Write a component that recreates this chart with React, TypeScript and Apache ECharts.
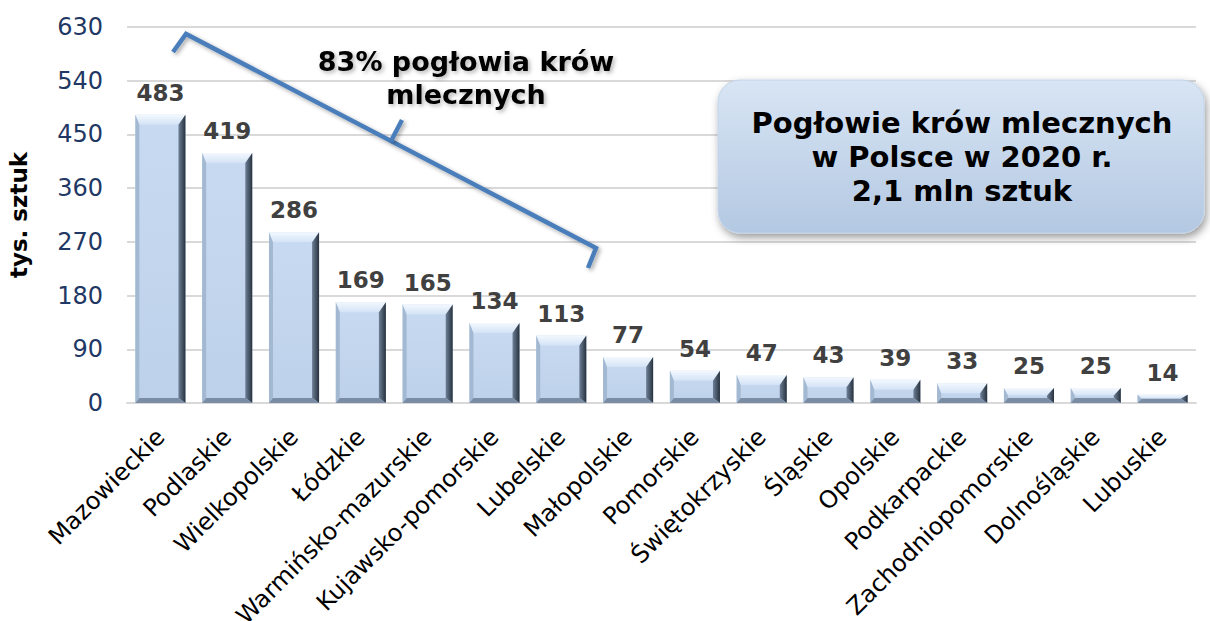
import React, { useEffect, useRef } from "react";
import * as echarts from "echarts";

const categories = [
  "Mazowieckie", "Podlaskie", "Wielkopolskie", "Łódzkie", "Warmińsko-mazurskie",
  "Kujawsko-pomorskie", "Lubelskie", "Małopolskie", "Pomorskie", "Świętokrzyskie",
  "Śląskie", "Opolskie", "Podkarpackie", "Zachodniopomorskie", "Dolnośląskie", "Lubuskie",
];
const values = [483, 419, 286, 169, 165, 134, 113, 77, 54, 47, 43, 39, 33, 25, 25, 14];
const yTicks = { min: 0, max: 630, interval: 90 };
const yAxisTitle = "tys. sztuk";
const annotationText = "83% pogłowia krów\nmlecznych";
const boxText = "Pogłowie krów mlecznych\nw Polsce w 2020 r.\n2,1 mln sztuk";

const NUM_FONT = "DejaVu Sans";

export default function App() {
  const ref = useRef<HTMLDivElement>(null);
  useEffect(() => {
    if (!ref.current) return;
    const chart = echarts.init(ref.current, undefined, { renderer: "svg" });
    const data = values.map((v, i) => [i, v]);

    const renderItem = (params: any, api: any) => {
      const idx = api.value(0);
      const v = api.value(1);
      const top = api.coord([idx, v]);
      const base = api.coord([idx, 0]);
      const bw = api.size([1, 0])[0] * 0.75;
      const x0 = top[0] - bw / 2;
      const x1 = top[0] + bw / 2;
      const y0 = top[1];
      const y1 = base[1];
      const h = y1 - y0;
      const bt = Math.min(10, h / 2);
      const bb = Math.min(5, h / 2);
      const br = 7;
      const bl = 4;
      const children: any[] = [
        {
          type: "rect",
          shape: { x: x0, y: y0, width: bw, height: h },
          style: {
            fill: new echarts.graphic.LinearGradient(0, 0, 0, 1, [
              { offset: 0, color: "#C8DAF1" },
              { offset: 1, color: "#BDD1EA" },
            ]),
          },
        },
        {
          type: "polygon",
          shape: { points: [[x0, y0], [x1, y0], [x1 - br, y0 + bt], [x0 + bl, y0 + bt]] },
          style: {
            fill: new echarts.graphic.LinearGradient(0, 0, 0, 1, [
              { offset: 0, color: "#F3F8FE" },
              { offset: 1, color: "#D3E3F6" },
            ]),
          },
        },
        {
          type: "polygon",
          shape: { points: [[x0, y0], [x0 + bl, y0 + bt], [x0 + bl, y1 - bb], [x0, y1]] },
          style: { fill: "#A3B8D1" },
        },
        {
          type: "polygon",
          shape: { points: [[x1, y0], [x1, y1], [x1 - br, y1 - bb], [x1 - br, y0 + bt]] },
          style: {
            fill: new echarts.graphic.LinearGradient(0, 0, 1, 0, [
              { offset: 0, color: "#6E8097" },
              { offset: 1, color: "#26313D" },
            ]),
          },
        },
        {
          type: "polygon",
          shape: { points: [[x0, y1], [x0 + bl, y1 - bb], [x1 - br, y1 - bb], [x1, y1]] },
          style: { fill: "#7A8DA5" },
        },
        {
          type: "text",
          x: top[0],
          y: y0 - 22,
          style: {
            text: String(v),
            fill: "#404040",
            font: `bold 23px "${NUM_FONT}"`,
            align: "center",
            verticalAlign: "middle",
          },
        },
      ];
      return { type: "group", children };
    };

    chart.setOption({
      animation: false,
      backgroundColor: "#ffffff",
      grid: { left: 127, right: 14, top: 27, bottom: 218, outerBoundsMode: "none", containLabel: false },
      xAxis: {
        type: "category",
        data: categories,
        axisTick: { show: false },
        axisLine: { show: true, lineStyle: { color: "#D9D9D9", width: 2 } },
        axisLabel: {
          rotate: 45,
          interval: 0,
          margin: 30,
          verticalAlign: "middle",
          color: "#000000",
          fontFamily: NUM_FONT,
          fontSize: 24,
        },
      },
      yAxis: {
        type: "value",
        min: yTicks.min,
        max: yTicks.max,
        interval: yTicks.interval,
        name: yAxisTitle,
        nameLocation: "middle",
        nameRotate: 90,
        nameGap: 97,
        nameTextStyle: { fontFamily: NUM_FONT, fontWeight: "bold", fontSize: 23, color: "#000000" },
        axisLine: { show: false },
        axisTick: { show: false },
        splitLine: { lineStyle: { color: "#D9D9D9", width: 2 } },
        axisLabel: { margin: 24, color: "#1F3864", fontFamily: NUM_FONT, fontSize: 24 },
      },
      series: [
        {
          type: "custom",
          renderItem,
          data,
          encode: { x: 0, y: 1 },
          clip: false,
        },
      ],
      graphic: [
        {
          type: "polyline",
          shape: { points: [[173, 52], [186, 34], [596, 248], [588, 268]] },
          style: {
            stroke: "#4A7EBB",
            lineWidth: 4.5,
            fill: "none",
            lineJoin: "miter",
            shadowColor: "rgba(0,0,0,0.35)",
            shadowBlur: 4,
            shadowOffsetX: 2,
            shadowOffsetY: 2,
          },
          z: 10,
        },
        {
          type: "line",
          shape: { x1: 391, y1: 141, x2: 402, y2: 120 },
          style: {
            stroke: "#4A7EBB",
            lineWidth: 4.5,
            shadowColor: "rgba(0,0,0,0.35)",
            shadowBlur: 4,
            shadowOffsetX: 2,
            shadowOffsetY: 2,
          },
          z: 10,
        },
        {
          type: "text",
          x: 466,
          y: 78,
          style: {
            text: annotationText,
            font: `bold 27px "${NUM_FONT}"`,
            fill: "#000000",
            align: "center",
            verticalAlign: "middle",
            lineHeight: 33,
            textShadowColor: "rgba(0,0,0,0.3)",
            textShadowBlur: 4,
            textShadowOffsetX: 2,
            textShadowOffsetY: 2,
          },
          z: 10,
        },
        {
          type: "rect",
          shape: { x: 718, y: 80, width: 486, height: 153, r: 22 },
          style: {
            fill: new echarts.graphic.LinearGradient(0, 0, 0, 1, [
              { offset: 0, color: "#D8E5F4" },
              { offset: 1, color: "#B3C8E2" },
            ]),
            stroke: "#C2D4EA",
            lineWidth: 1,
            shadowColor: "rgba(0,0,0,0.4)",
            shadowBlur: 8,
            shadowOffsetX: 2,
            shadowOffsetY: 4,
          },
          z: 10,
        },
        {
          type: "text",
          x: 962,
          y: 157,
          style: {
            text: boxText,
            font: `bold 29px "${NUM_FONT}"`,
            fill: "#000000",
            align: "center",
            verticalAlign: "middle",
            lineHeight: 34,
          },
          z: 11,
        },
      ],
    });
    return () => chart.dispose();
  }, []);
  return <div ref={ref} style={{ width: 1210, height: 621, position: "absolute", left: 0, top: 0 }} />;
}
